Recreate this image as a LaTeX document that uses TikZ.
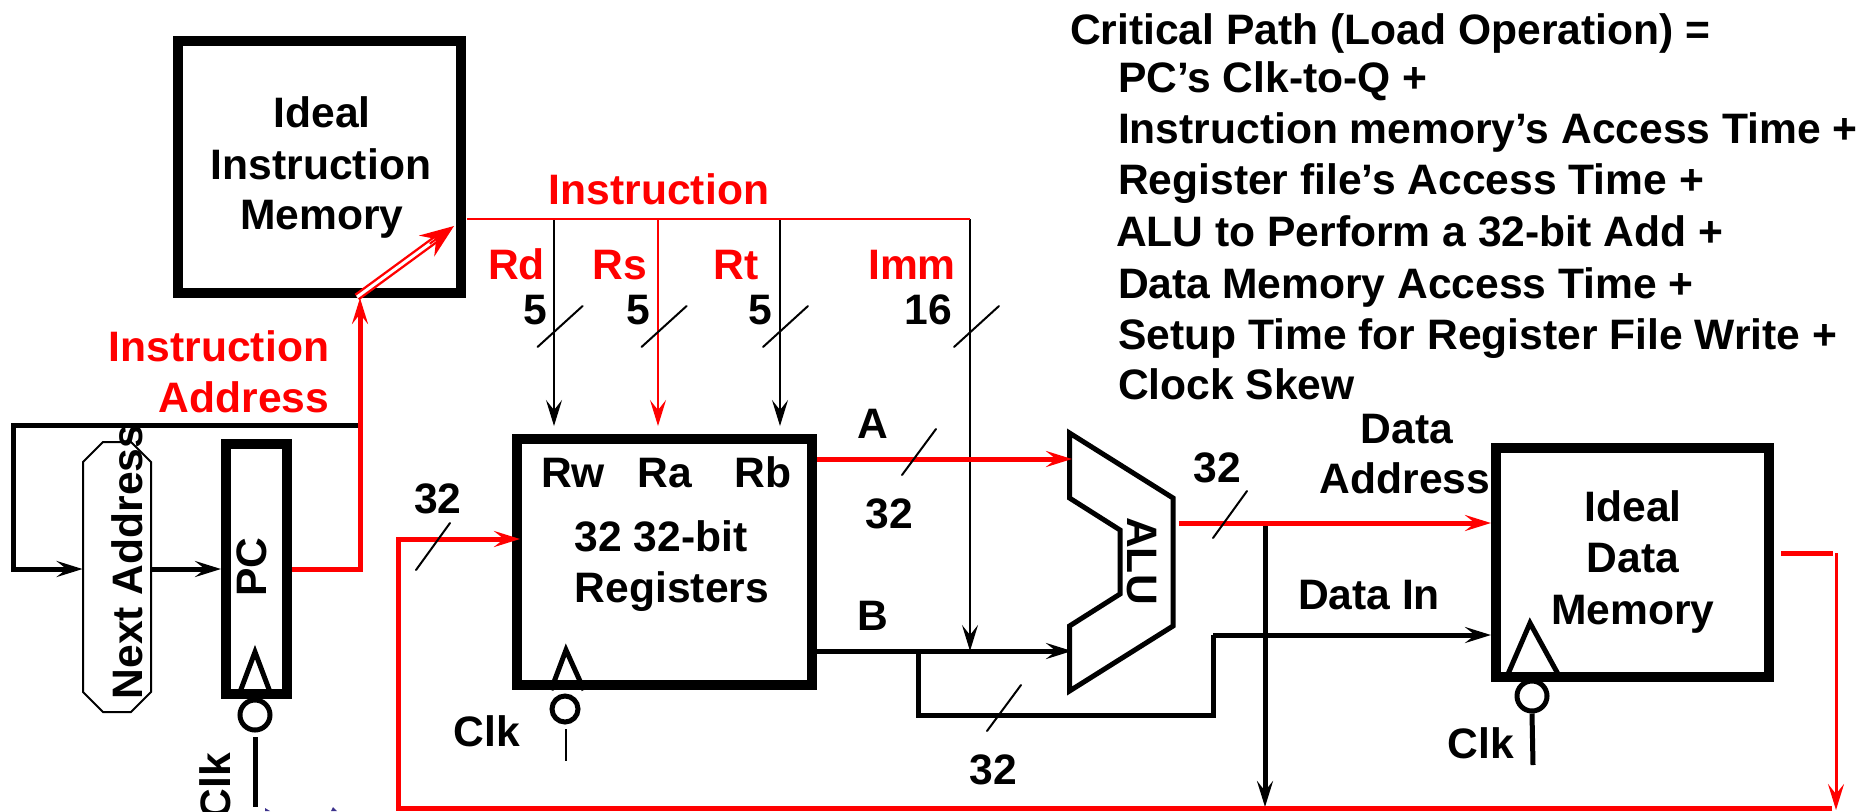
\documentclass[tikz,border=0pt]{standalone}
\usepackage{fontspec}
\setmainfont{Liberation Sans}
\usetikzlibrary{arrows.meta,calc}
\definecolor{hred}{RGB}{255,0,0}
\definecolor{logoink}{RGB}{60,50,140}
\tikzset{
  x=0.5pt,y=-0.5pt,
  lblbase/.style={font=\fontsize{21.3}{21.3}\selectfont\bfseries,inner sep=0pt,outer sep=0pt,align=center},
  lbl/.style={lblbase,anchor=base,yshift=-7.2pt},
  rlbl/.style={lbl,text=hred},
  rotlbl/.style={lblbase,anchor=center},
  heavybox/.style={draw,line width=5pt,fill=white,inner sep=0pt},
  wire/.style={line width=2.5pt,line join=miter},
  thinw/.style={line width=1pt},
  tip/.style={-{Stealth[length=13pt,width=8pt,inset=5pt]}},
  bigtip/.style={-{Stealth[length=17pt,width=13pt,inset=6pt]}},
  tick/.style={line width=1pt,line cap=round},
  bubble/.style={circle,draw,line width=2.5pt,fill=white,inner sep=0pt,minimum size=13pt},
  clockmark/.style={line width=2.5pt,line join=miter},
}
\begin{document}
\begin{tikzpicture}
\useasboundingbox (0,0) rectangle (1858,811);
% boxes
\node[heavybox,minimum width=141.5pt,minimum height=126pt] (imem) at (319.5,167) {};
\node[heavybox,minimum width=30.5pt,minimum height=125pt] (pc) at (256.5,569) {};
\node[inner sep=0pt,minimum width=34pt,minimum height=135pt] (na) at (117,577) {};
\draw[line width=1pt] (83,462) -- (103,442) -- (131,442) -- (151,462) -- (151,692) -- (131,712) -- (103,712) -- (83,692) -- cycle;
\node[heavybox,minimum width=147.5pt,minimum height=123pt] (regs) at (664.5,562) {};
\node[heavybox,minimum width=136.5pt,minimum height=114.5pt] (dmem) at (1632.5,562.5) {};
% ALU
\draw[line width=2.5pt,line join=miter,fill=white]
  (1069.5,433) coordinate (alutl) -- (1173,498) coordinate (alur1) -- (1173,626) coordinate (alur2)
  -- (1069.5,691) -- (1069.5,626) -- (1120,594) -- (1120,530) -- (1069.5,498) -- cycle;
% clock parts
\draw[clockmark] (240,692) -- (255,652) -- (270,692);
\node[bubble,minimum size=15pt] (pcb) at (255,715) {};
\coordinate (pcclk) at (255,807);
\draw[wire] (255,737) -- (pcclk);
\draw[clockmark] (551,690) -- (566,650) -- (584,690);
\node[bubble] (rb) at (565,709) {};
\coordinate (rclk) at (566,761);
\draw[thinw] (566,729) -- (rclk);
\draw[clockmark] (1508,674) -- (1530,623) -- (1558,674);
\node[bubble,minimum size=15pt] (db) at (1532,696) {};
\coordinate (dclk) at (1533,765);
\draw[wire] (db.south) -- (dclk);
% coordinates
\coordinate (pcout) at (360,569);
\coordinate (split) at (360,425);
\coordinate (imin) at (357,297);
\coordinate (imtip) at (454,226);
\coordinate (loopl) at (13,425);
\coordinate (instrs) at (467,219);
\coordinate (instre) at (970,219);
\coordinate (junc) at (970,651);
\coordinate (rdj) at (554,219);
\coordinate (rsj) at (658,219);
\coordinate (rtj) at (780,219);
\coordinate (rdt) at (554,426);
\coordinate (rst) at (658,426);
\coordinate (rtt) at (780,426);
\coordinate (aluin1) at (1072,459);
\coordinate (aluin2) at (1072,651);
\coordinate (aluout) at (1179,523);
\coordinate (daddr) at (1265,523);
\coordinate (dbot) at (1265,807);
\coordinate (bbr) at (918,651);
\coordinate (bb2) at (918,715);
\coordinate (bb3) at (1213,715);
\coordinate (bb4) at (1213,635);
\coordinate (memout) at (1781,553);
\coordinate (memr) at (1836,553);
\coordinate (memb) at (1836,810);
\coordinate (bl) at (398,808);
\coordinate (br) at (1832,808);
\coordinate (bt) at (398,539);
\coordinate (regin) at (520,539);
% black wires
\draw[wire,tip,line join=miter] (split) -- (loopl) -- (loopl |- pc.west) -- (na.west |- pc.west);
\draw[wire,tip] (na.east |- pc.west) -- (pc.west);
\draw[thinw,tip] (rdj) -- (rdt);
\draw[thinw,tip] (rtj) -- (rtt);
\draw[thinw,tip] (instre) -- (junc);
\draw[wire,tip] (regs.east |- aluin2) -- (aluin2);
\draw[wire] (bbr) -- (bb2) -- (bb3) -- (bb4);
\draw[wire,tip] (bb4) -- (dmem.west |- bb4);
\draw[wire,tip] (daddr) -- (dbot);
% red wires
\draw[wire,hred,tip] (pc.east) -- (pcout) -- (imem.south -| pcout);
\draw[line width=1.2pt,hred,double=white,double distance=1.5pt] (imin) -- ($(imin)!0.85!(imtip)$);
\draw[thinw,hred,bigtip] ($(imin)!0.75!(imtip)$) -- (imtip);
\draw[thinw,hred] (instrs) -- (instre);
\draw[thinw,hred,tip] (rsj) -- (rst);
\draw[wire,hred,tip] (regs.east |- aluin1) -- (aluin1);
\draw[wire,hred,tip] (aluout) -- (dmem.west |- aluout);
\draw[wire,hred] (memout) -- (1833,553);
\draw[line width=1.5pt,hred,tip] (memr) -- (memb);
\draw[wire,hred,tip] (br) -- (bl) -- (bt) -- (regin);
% ticks
\foreach \a/\b/\c/\d in {537.5/347/582.6/306,641.5/347/686.6/306,763/347/808/306,954/347/999/306,
  416/570/450/523,902/475/936/429,987/731/1021/685,1213/538/1247/491}
  \draw[tick] (\a,\b) -- (\c,\d);
% trace of a cropped logo at the lower edge
\fill[logoink] (265,808) -- (270,811) -- (265,811) -- cycle;
\fill[logoink] (333,807) -- (337,811) -- (331,811) -- cycle;
% labels
\node[lbl] (t1) at (322,113) {Ideal};
\node[lbl] (t2) at (321,165) {Instruction};
\node[lbl] (t3) at (322,215) {Memory};
\node[rlbl] (t4) at (659,190) {Instruction};
\node[rlbl] (t5) at (516.5,265) {Rd};
\node[rlbl] (t6) at (619.5,265) {Rs};
\node[rlbl] (t7) at (736,265) {Rt};
\node[rlbl] (t8) at (912,265) {Imm};
\node[lbl] (t9) at (535,310) {5};
\node[lbl] (t10) at (638,310) {5};
\node[lbl] (t11) at (760,310) {5};
\node[lbl] (t12) at (928,310) {16};
\node[rlbl] (t13) at (219,347) {Instruction};
\node[rlbl] (t14) at (244,398) {Address};
\node[rotlbl,rotate=90] (t15) at (127,562) {Next Address};
\node[rotlbl,rotate=90] (t16) at (252,567) {PC};
\node[rotlbl,rotate=90] (t17) at (215,786) {Clk};
\node[lbl] (t18) at (438,499) {32};
\node[lbl] (t19) at (487,732) {Clk};
\node[lbl] (t20) at (573,473) {Rw};
\node[lbl] (t21) at (665,473) {Ra};
\node[lbl] (t22) at (763,473) {Rb};
\node[lbl] (t23) at (661,537) {32 32-bit};
\node[lbl] (t24) at (672,588) {Registers};
\node[lbl] (t25) at (873,424) {A};
\node[lbl] (t26) at (889,514) {32};
\node[lbl] (t27) at (873,616) {B};
\node[lbl] (t28) at (993,770) {32};
\node[rotlbl,rotate=-90] (t29) at (1142,561) {ALU};
\node[lbl] (t30) at (1217,468) {32};
\node[lbl] (t31) at (1407,429) {Data};
\node[lbl] (t32) at (1405,479) {Address};
\node[lbl] (t33) at (1369,595) {Data In};
\node[lbl] (t34) at (1633,507) {Ideal};
\node[lbl] (t35) at (1633,558) {Data};
\node[lbl] (t36) at (1633,610) {Memory};
\node[lbl] (t37) at (1481,744) {Clk};
\node[lbl,anchor=base west] (c0) at (1070,30) {Critical Path (Load Operation) =};
\node[lbl,anchor=base west] (c1) at (1118,78) {PC’s Clk-to-Q +};
\node[lbl,anchor=base west] (c2) at (1118,129) {Instruction memory’s Access Time +};
\node[lbl,anchor=base west] (c3) at (1118,180) {Register file’s Access Time +};
\node[lbl,anchor=base west] (c4) at (1116,232) {ALU to Perform a 32-bit Add +};
\node[lbl,anchor=base west] (c5) at (1118,284) {Data Memory Access Time +};
\node[lbl,anchor=base west] (c6) at (1118,335) {Setup Time for Register File Write +};
\node[lbl,anchor=base west] (c7) at (1118,385) {Clock Skew};
\end{tikzpicture}
\end{document}
